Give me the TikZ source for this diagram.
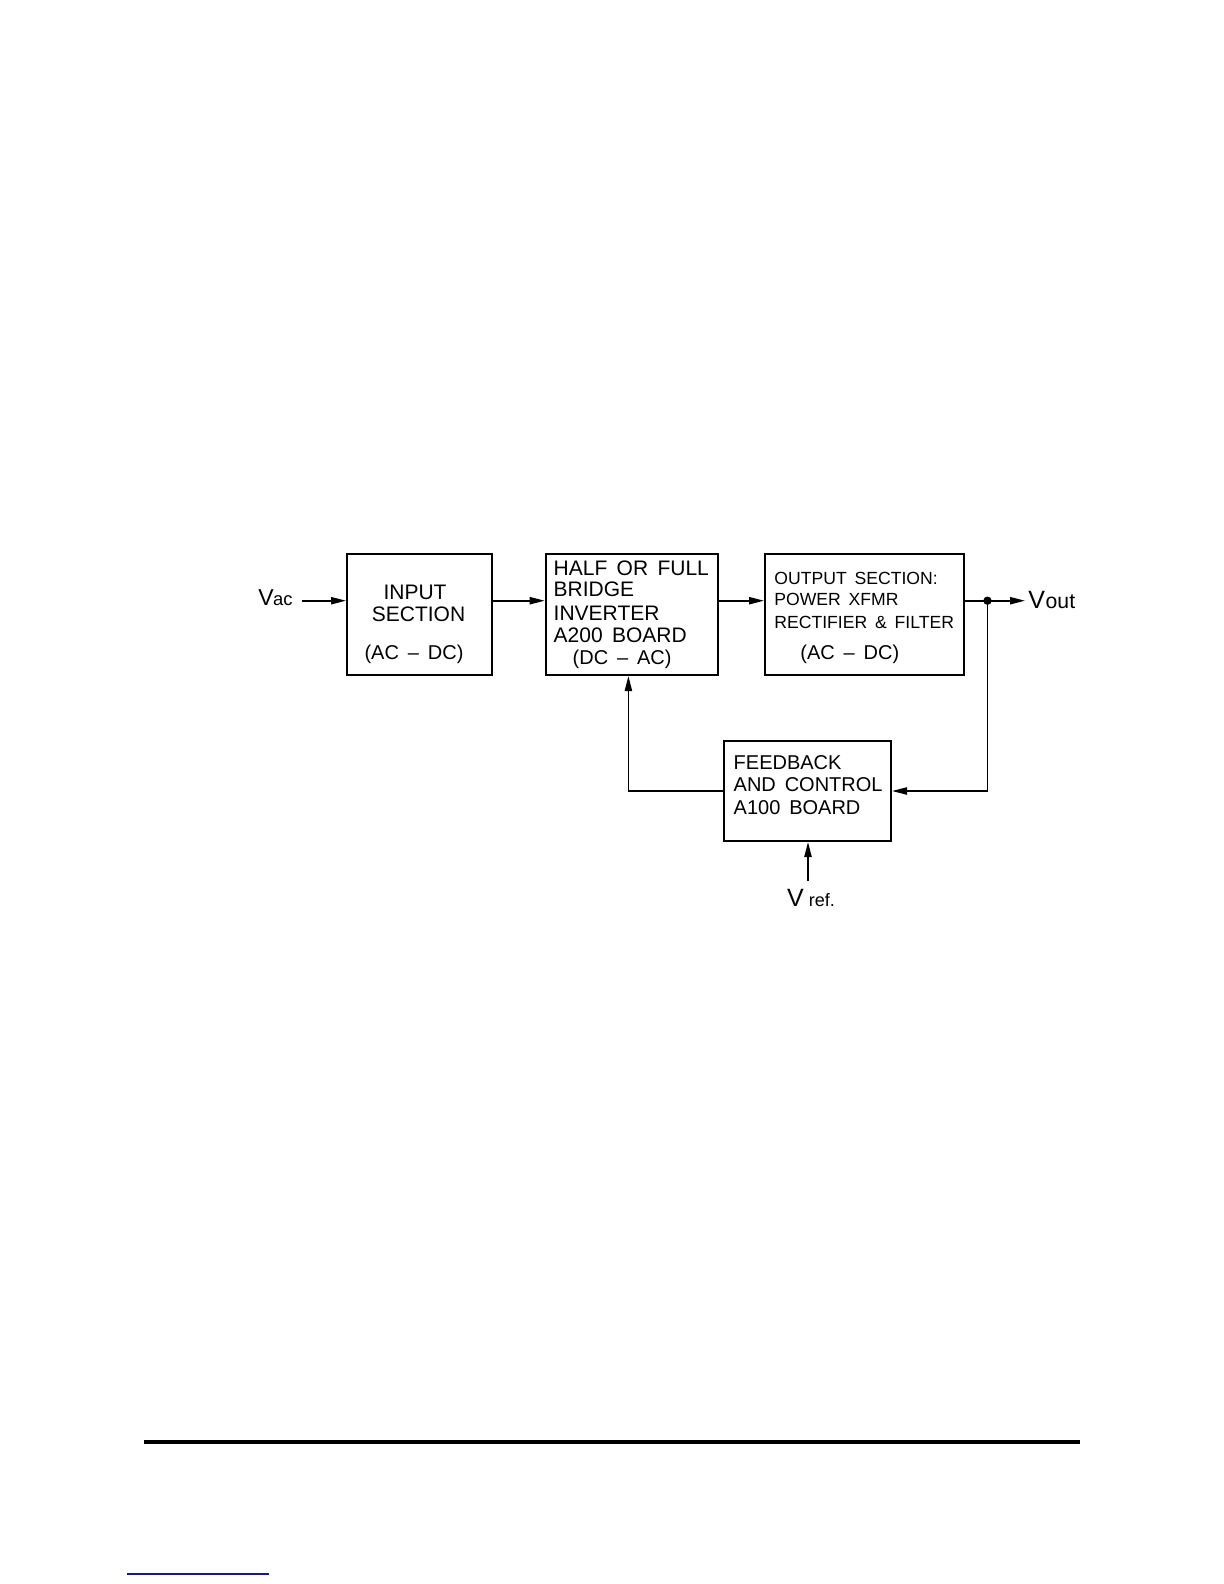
\documentclass[tikz,border=0pt]{standalone}
\usepackage{fontspec}
\setmainfont{Liberation Sans}
\usetikzlibrary{arrows.meta}
\definecolor{linkblue}{RGB}{25,25,135}
\newcommand{\fsz}[1]{\fontsize{#1bp}{#1bp}\selectfont}
\begin{document}
\begin{tikzpicture}[x=0.5bp,y=-0.5bp,
  box/.style={draw, line width=1bp, inner sep=0pt, minimum height=60.5bp},
  conn/.style={line width=0.8bp},
  arr/.style={conn, -{Triangle[length=7.5bp,width=3.6bp]}},
  txt/.style={inner sep=0pt, anchor=base west, font=\fsz{10.5}},
  ctxt/.style={txt, anchor=base},
  otxt/.style={txt, font=\fsz{8.8}},
  ftxt/.style={txt, font=\fsz{10}}]
\useasboundingbox (0,0) rectangle (1224,1584);

% boxes
\node[box, minimum width=72.5bp] (inp) at (419.5,614.5) {};
\node[box, minimum width=86.3bp] (inv) at (632,614.5) {};
\node[box, minimum width=99.5bp] (outb) at (864.5,614.5) {};
\node[box, minimum width=83.5bp, minimum height=50bp] (fb) at (807.5,791) {};

% texts in boxes
\node[ctxt] (t1) at (415,599) {INPUT};
\node[ctxt] (t2) at (418.5,621) {SECTION};
\node[ctxt, font=\fsz{10}] (t3) at (414,659) {(AC\ \,–\ \,DC)};

\node[txt] (t4) at (553.3,575) {HALF\ \,OR\ \,FULL};
\node[txt] (t5) at (553.3,596.7) {BRIDGE};
\node[txt] (t6) at (553.3,620) {INVERTER};
\node[txt] (t7) at (553.3,642.7) {A200\ \,BOARD};
\node[txt, font=\fsz{10}] (t8) at (572.3,664) {(DC\ \,–\ \,AC)};

\node[otxt] (t9) at (774,584) {OUTPUT\ \,SECTION:};
\node[otxt] (t10) at (774,605.7) {POWER\ \,XFMR};
\node[otxt] (t11) at (774,628.3) {RECTIFIER\ \,\&\ \,FILTER};
\node[otxt, font=\fsz{10}] (t12) at (800,659) {(AC\ \,–\ \,DC)};

\node[ftxt] (t13) at (733.3,769) {FEEDBACK};
\node[ftxt] (t14) at (733.3,791.7) {AND\ \,CONTROL};
\node[ftxt] (t15) at (733.3,814.3) {A100\ \,BOARD};

% terminal labels
\node[txt] (vac) at (258,605.7) {\fsz{11.5}V\kern-0.3bp\fsz{9.2}ac};
\node[txt] (vout) at (1028,608) {\fsz{12.5}V\kern0.3bp\fsz{10.6}out};
\node[txt] (vref) at (786.7,906.7) {\fsz{12.5}V\kern2.5bp\fsz{9}ref.};

% connectors
\coordinate (vacs) at (301.7,600.7);
\coordinate (dot) at (987.5,600.7);
\coordinate (voute) at (1025,600.7);
\coordinate (vrefs) at (808,881);

\draw[arr] (vacs) -- (vacs -| inp.west);
\draw[arr] (inp.east |- vacs) -- (inv.west |- vacs);
\draw[arr] (inv.east |- vacs) -- (outb.west |- vacs);
\draw[conn] (outb.east |- dot) -- (dot);
\draw[arr] (dot) -- (voute);
\fill (dot) circle[radius=2.1bp];
\draw[arr] (dot) |- (fb.east);
\draw[arr] (fb.west) -| ([xshift=-1.8bp]inv.south);
\draw[arr] (vrefs) -- (vrefs |- fb.south);

% page rule and link underline
\draw[line width=2bp] (144,1441.5) -- (1080,1441.5);
\draw[linkblue, line width=0.8bp] (127,1574) -- (269,1574);
\end{tikzpicture}
\end{document}
